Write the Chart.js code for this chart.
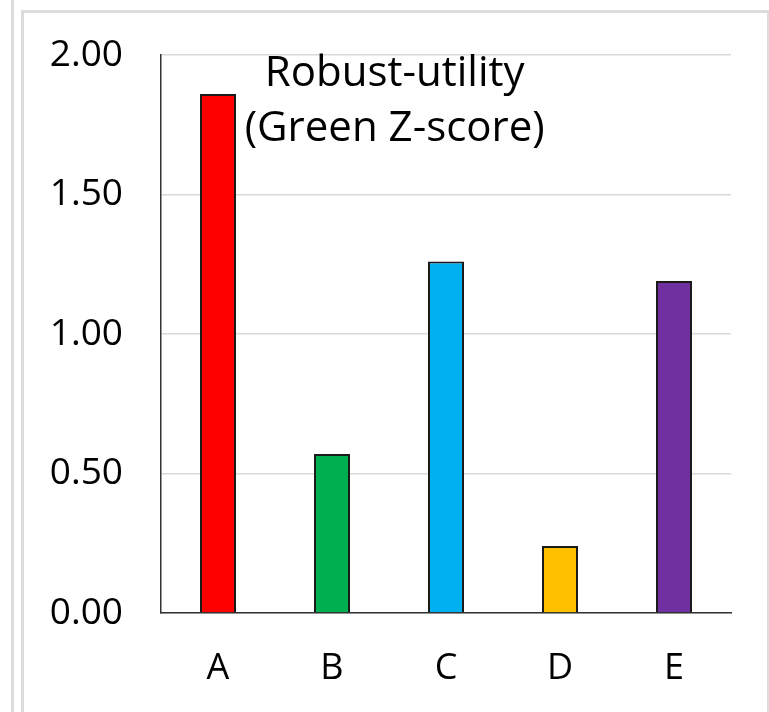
<!DOCTYPE html>
<html>
<head>
<meta charset="utf-8">
<script src="https://cdn.jsdelivr.net/npm/chart.js@4/dist/chart.umd.min.js"></script>
<style>
  html, body { margin: 0; padding: 0; background: #fff; width: 769px; height: 712px; overflow: hidden; }
  .rule { position: absolute; left: 11px; top: 0; width: 3px; height: 712px; background: #dcdcdc; }
  .frame { position: absolute; left: 21px; top: 10px; width: 743px; height: 710px;
           border-left: 3px solid #dcdcdc; border-top: 3px solid #dcdcdc; border-right: 3px solid #dcdcdc; }
  #c { position: absolute; left: 0; top: 0; }
</style>
</head>
<body>
<div class="rule"></div>
<div class="frame"></div>
<canvas id="c" width="769" height="712"></canvas>
<script>
// Scores per option
const categories = ['A', 'B', 'C', 'D', 'E'];
const scores = [1.86, 0.57, 1.26, 0.24, 1.19];
const barColors = ['#FF0000', '#00B050', '#00B0F0', '#FFC000', '#7030A0'];
const yTicks = [0, 0.5, 1.0, 1.5, 2.0];
const titleLines = ['Robust-utility', '(Green Z-score)'];

const FONT = "'Open Sans', sans-serif";

// Two-line heading drawn inside the plot area
const innerTitle = {
  id: 'innerTitle',
  afterDraw(chart) {
    const { ctx, chartArea } = chart;
    ctx.save();
    ctx.fillStyle = '#000';
    ctx.textAlign = 'center';
    ctx.textBaseline = 'alphabetic';
    ctx.font = '42px ' + FONT;
    const cx = chartArea.left + chartArea.width * 0.41;
    ctx.fillText(titleLines[0], cx, chartArea.top + 31);
    ctx.fillText(titleLines[1], cx, chartArea.top + 86);
    ctx.restore();
  }
};

new Chart(document.getElementById('c'), {
  type: 'bar',
  data: {
    labels: categories,
    datasets: [{
      data: scores,
      backgroundColor: barColors,
      borderColor: '#1a1a1a',
      borderWidth: 2,
      borderSkipped: 'bottom',
      categoryPercentage: 1.0,
      barPercentage: 0.316
    }]
  },
  options: {
    responsive: false,
    animation: false,
    layout: { padding: { left: 0, right: 38, top: 55, bottom: 0 } },
    plugins: { legend: { display: false }, tooltip: { enabled: false } },
    scales: {
      x: {
        grid: { display: false, drawTicks: false },
        border: { display: true, color: '#333', width: 1.5 },
        ticks: { color: '#000', font: { family: FONT, size: 36 }, padding: 34 },
        afterFit(scale) { scale.height = 99; scale.paddingLeft = 0; scale.paddingRight = 0; }
      },
      y: {
        min: 0,
        max: 2,
        afterBuildTicks(scale) { scale.ticks = yTicks.map(v => ({ value: v })); },
        grid: { color: '#d9d9d9', lineWidth: 1.5, drawTicks: false },
        border: { display: true, color: '#333', width: 1.5 },
        ticks: {
          color: '#000',
          font: { family: FONT, size: 37 },
          padding: 38,
          callback: v => Number(v).toFixed(2)
        },
        afterFit(scale) { scale.width = 161; scale.paddingTop = 0; scale.paddingBottom = 0; }
      }
    }
  },
  plugins: [innerTitle]
});
</script>
</body>
</html>
